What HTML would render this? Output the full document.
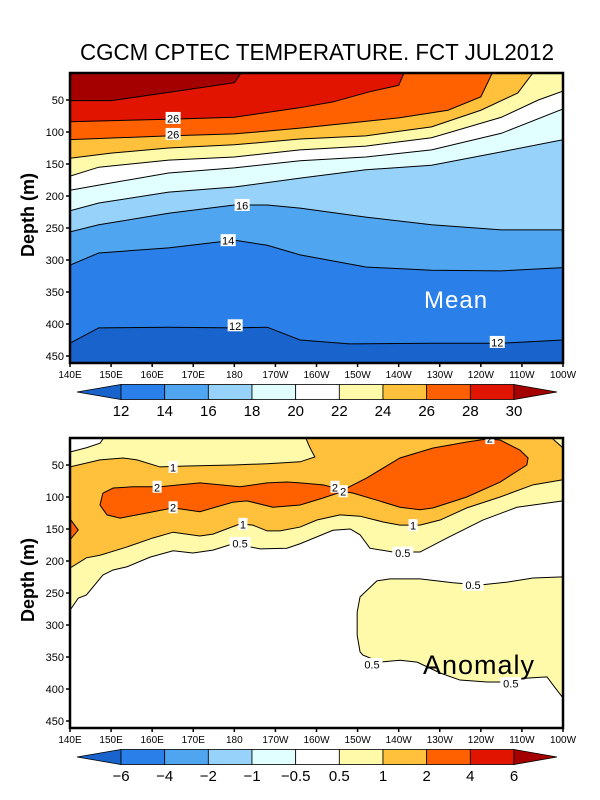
<!DOCTYPE html>
<html><head><meta charset="utf-8"><style>
html,body{margin:0;padding:0;background:#fff;}
svg{display:block;font-family:"Liberation Sans",sans-serif;}
</style></head><body>
<svg id="chart" width="600" height="800" viewBox="0 0 600 800" xmlns="http://www.w3.org/2000/svg">
<rect x="0" y="0" width="600" height="800" fill="#fff"/>
<text x="317" y="60" font-size="23" text-anchor="middle" textLength="474" lengthAdjust="spacingAndGlyphs">CGCM CPTEC TEMPERATURE. FCT JUL2012</text>
<g id="top"></g><g id="bot"></g>
</svg>
<script>
const NS="http://www.w3.org/2000/svg";
const lonTicks=['140E','150E','160E','170E','180','170W','160W','150W','140W','130W','120W','110W','100W'];
const depthTicks=[50,100,150,200,250,300,350,400,450];
const meanBarLabels=['12','14','16','18','20','22','24','26','28','30'];
const meanColors=['#1864cc','#2a80e8','#50a5f0','#96d2fa','#e1ffff','#ffffff','#fffaaa','#ffc03c','#ff6000','#e11400','#a50000'];
const anomBarLabels=['\u22126','\u22124','\u22122','\u22121','\u22120.5','0.5','1','2','4','6'];
const anomColors=['#1864cc','#2a80e8','#50a5f0','#96d2fa','#e1ffff','#ffffff','#fffaaa','#ffc03c','#ff6000','#e11400','#a50000'];
// mean contours (level, lons, depths)
const meanLevels=[12,14,16,18,20,22,24,26,28,30];
const meanLons=[
[140,147,164,180,188,196,208,228,245,260],
[140,147,164,180,188,196,212,228,245,260],
[140,147,164,180,188,196,212,228,245,260],
[140,147,164,180,196,212,228,245,260],
[140,147,164,180,196,212,228,245,260],
[140,147,164,180,196,212,228,245,254,260],
[140,150,164,180,196,212,228,240,249,253],
[140,164,180,196,220,232,240,243],
[140,164,180,196,204,213,220,221.5],
[140,150,164,180,182]];
const meanDepths=[
[430,406,405,406,405,425,431,430,430,425],
[308,289,281,269,277,292,311,316,317,312],
[256,245,227,214,214,219,233,245,253,253],
[223,211,194,186,172,159,152,131,112],
[191,183,164,156,145,139,128,102,64],
[169,155,144,139,128,122,109,77,50,36],
[141,133,125,120,111,106,92,66,39,5],
[112,106,103,94,78,66,45,5],
[84,80,77,62,53,37,27,5],
[51,51,38,23,5]];
const meanLabels=[['26',165.1,78],['26',165.1,103],['16',181.9,214],['14',178.5,269],['12',180.2,402],['12',244,428]];
// anomaly regions [lon,depth]
const anomRegions=[
{c:'#fffaaa',p:[[140,29.7],[144,23],[147.3,16],[148.5,5],[260,5],[260,106],[248.8,116],[240.5,136],[231.8,164],[225.2,186],[218.6,186],[213,180],[210.6,159],[208.2,150],[204,152],[196,173],[192.8,180],[186.3,181],[179.7,173],[174.8,183],[169.9,187.5],[165.1,184],[159.5,194],[153.9,209],[150.5,214],[148,222],[144,253],[142,258],[140,277],[140,29.7]]},
{c:'#ffc03c',p:[[140,53],[147.3,42],[152.9,39],[156.3,42],[161.9,53],[168.5,51.6],[179.7,50],[188,48],[196,45],[199.6,37.5],[198.4,23],[197.2,5],[256.8,5],[260,23.4],[260,73],[252.7,81],[244.7,100],[236.6,117],[230.1,136],[225.2,144],[220.3,144],[216.2,139],[210.6,130],[205.7,128],[200.1,136],[196,147],[191.1,153],[188,153],[184.5,144],[181.4,142],[174.8,158],[171.6,161],[165.1,155],[160.2,164],[153.9,178],[147.3,191],[144,195],[140,211]]},
{c:'#ff6000',p:[[140,134],[142,151.6],[140,167]]},
{c:'#ff6000',p:[[147.3,112.5],[148,94],[150.5,86],[155.3,84],[161.9,84],[171.6,78],[181.4,84],[188,78],[192.8,76.6],[196,78],[201.6,81],[206.5,89],[212.3,70],[220.3,39],[228.4,23.4],[236.6,14],[241.5,9.4],[244.7,11],[249.5,26.6],[251.5,39],[251.2,50],[244.7,76.6],[236.6,100],[228.4,117],[225.2,120],[220.3,116],[214.7,105],[208.9,94],[206.5,91],[201.6,101.6],[196,112.5],[189.4,116],[183.1,106],[179.7,108],[171.6,123],[165.1,117],[158.7,125],[152.2,133],[149,128]]},
{c:'#fffaaa',p:[[210.6,256],[214.7,231],[217.9,228],[225.2,228],[233.2,234],[239.8,237.5],[246.4,233],[252.7,226.6],[260,224.8],[260,414],[257.6,394],[256.1,381],[251.2,383],[246.4,389],[241.5,389],[234.9,386],[230.1,375],[224.5,358],[220.3,355],[215.5,358],[211.3,347],[210.6,342],[209.9,316],[209.9,280]]}
];
const anomLabels=[['1',165.1,53],['2',161.2,84],['2',165.1,116],['1',182.1,142],['0.5',181.4,172],['2',242.2,8],['2',204.5,84],['2',206.5,91],['1',223.5,144],['0.5',221,187],['0.5',238.1,237],['0.5',213.5,361],['0.5',247.3,391]];

const X0=70,X1=563;
function xs(lon){return X0+(lon-140)*(X1-X0)/120;}
function mk(parent,tag,attrs){const e=document.createElementNS(NS,tag);for(const k in attrs)e.setAttribute(k,attrs[k]);parent.appendChild(e);return e;}

function panel(g,oy,name){
  const ys=d=>oy+(d-50)*0.64;
  const top=oy-27,bot=oy+263;
  const cp=mk(g,'clipPath',{id:'clip'+name});
  mk(cp,'rect',{x:X0,y:top,width:X1-X0,height:bot-top});
  const area=mk(g,'g',{'clip-path':'url(#clip'+name+')'});
  
  
  return {ys,top,bot,area};
}
function frame(g,P,name,yt,labelY,text,tc,tx,ty,tsize){
  const r=mk(g,'rect',{x:X0,y:P.top,width:X1-X0,height:P.bot-P.top,fill:'none',stroke:'#000','stroke-width':2.5});
  
  
  lonTicks.forEach((t,i)=>{
    const x=xs(140+i*10);
    mk(g,'line',{x1:x,x2:x,y1:P.bot,y2:P.bot+4,stroke:'#000','stroke-width':1.5});
    const tt=mk(g,'text',{x:x,y:P.bot+15,'font-size':10,'text-anchor':'middle'});
    tt.textContent=t;
    
    
  });
  depthTicks.forEach(d=>{
    const y=P.ys(d);
    mk(g,'line',{x1:X0-4,x2:X0,y1:y,y2:y,stroke:'#000','stroke-width':1.5});
    const tt=mk(g,'text',{x:X0-6,y:y+4,'font-size':11,'text-anchor':'end'});
    tt.textContent=d;
    
    
  });
  const yl=mk(g,'text',{x:34,y:labelY,'font-size':18,'font-weight':'bold','text-anchor':'middle',transform:'rotate(-90 34 '+labelY+')'});
  yl.textContent='Depth (m)';
  
  
  const pt=mk(g,'text',{x:tx,y:ty,'font-size':tsize,fill:tc,'letter-spacing':1});
  pt.textContent=text;
  
  
}
function clabel(g,P,t,lon,d){
  const x=xs(lon),y=P.ys(d),w=t.length*6+3;
  mk(g,'rect',{x:x-w/2,y:y-6,width:w,height:12,fill:'#fff'});
  const tt=mk(g,'text',{x:x,y:y+4.5,'font-size':11,'text-anchor':'middle'});
  tt.textContent=t;
  
  
}
function colorbar(g,cy,labels,colors,name){
  const L=121,R=514,n=labels.length-1,w=(R-L)/n,h=15,y0=cy-7.5;
  const bar=mk(g,'g',{});
  
  
  mk(bar,'polygon',{points:`77,${cy} ${L},${y0} ${L},${y0+h}`,fill:colors[0],stroke:'#000','stroke-width':0.8});
  for(let i=0;i<n;i++){
    const s=mk(bar,'rect',{x:L+i*w,y:y0,width:w,height:h,fill:colors[i+1],stroke:'#000','stroke-width':0.8});
    
    
  }
  mk(bar,'polygon',{points:`${R},${y0} 557,${cy} ${R},${y0+h}`,fill:colors[colors.length-1],stroke:'#000','stroke-width':0.8});
  labels.forEach((t,i)=>{
    const tt=mk(bar,'text',{x:L+i*w,y:cy+24,'font-size':15,'text-anchor':'middle'});
    tt.textContent=t;
    
    
  });
}
// TOP
const gT=document.getElementById('top');


const PT=panel(gT,100,'mean');
mk(PT.area,'rect',{x:X0,y:PT.top,width:X1-X0,height:PT.bot-PT.top,fill:meanColors[0]});
meanLevels.forEach((lv,i)=>{
  const lons=meanLons[i],ds=meanDepths[i];
  const pts=lons.map((l,j)=>xs(l)+','+PT.ys(ds[j]));
  const last=lons[lons.length-1];
  const poly=pts.concat([xs(last)+','+(PT.top-5),xs(140)+','+(PT.top-5)]);
  const f=mk(PT.area,'polygon',{points:poly.join(' '),fill:meanColors[i+1]});
  
  
});
meanLevels.forEach((lv,i)=>{
  const pts=meanLons[i].map((l,j)=>xs(l)+','+PT.ys(meanDepths[i][j]));
  const c=mk(PT.area,'polyline',{points:pts.join(' '),fill:'none',stroke:'#000','stroke-width':1});
  
  
});
meanLabels.forEach(a=>clabel(PT.area,PT,a[0],a[1],a[2]));
frame(gT,PT,'mean',0,215,'Mean','#fff',424,308,24);
colorbar(gT,392,meanBarLabels,meanColors,'mean-colorbar');
// BOTTOM
const gB=document.getElementById('bot');


const PB=panel(gB,465,'anomaly');
mk(PB.area,'rect',{x:X0,y:PB.top,width:X1-X0,height:PB.bot-PB.top,fill:'#fff'});
anomRegions.forEach((r,i)=>{
  const pts=r.p.map(q=>xs(q[0])+','+PB.ys(q[1]));
  const f=mk(PB.area,'polygon',{points:pts.join(' '),fill:r.c,stroke:'#000','stroke-width':1});
  
  
});
anomLabels.forEach(a=>clabel(PB.area,PB,a[0],a[1],a[2]));
frame(gB,PB,'anomaly',0,580,'Anomaly','#000',423,674,27);
colorbar(gB,757,anomBarLabels,anomColors,'anomaly-colorbar');
</script>
</body></html>
